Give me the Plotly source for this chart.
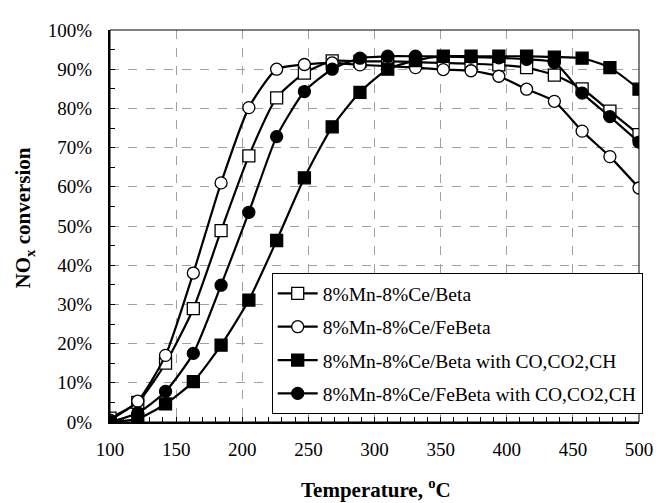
import plotly.graph_objects as go

temperature = [100, 121, 142, 163, 184, 205, 226, 247, 268, 289, 310, 331, 352, 373, 394, 415, 436, 457, 478, 500]

beta = [1.0, 5.0, 15.0, 28.9, 48.8, 67.9, 82.7, 89.0, 92.1, 92.0, 92.0, 91.8, 91.6, 91.4, 91.1, 90.4, 88.5, 85.0, 79.3, 73.3]
febeta = [0.5, 5.3, 17.0, 38.0, 61.0, 80.2, 90.0, 91.2, 91.6, 91.1, 90.8, 90.4, 89.9, 89.6, 88.2, 84.9, 81.8, 74.2, 67.7, 59.7]
beta_co = [0.0, 0.8, 4.6, 10.3, 19.6, 31.1, 46.3, 62.3, 75.3, 84.1, 90.0, 92.2, 93.3, 93.3, 93.3, 93.3, 93.1, 92.8, 90.4, 84.9]
febeta_co = [0.0, 2.3, 7.8, 17.5, 34.9, 53.5, 72.8, 84.3, 90.0, 92.8, 93.3, 93.3, 93.2, 93.1, 92.9, 92.5, 91.7, 83.9, 77.9, 71.4]

names = ["8%Mn-8%Ce/Beta", "8%Mn-8%Ce/FeBeta",
         "8%Mn-8%Ce/Beta with CO,CO2,CH", "8%Mn-8%Ce/FeBeta with CO,CO2,CH"]
x_ticks = [100, 150, 200, 250, 300, 350, 400, 450, 500]
y_ticks = [0, 10, 20, 30, 40, 50, 60, 70, 80, 90, 100]

series = [
    (names[0], beta, "square", "white"),
    (names[1], febeta, "circle", "white"),
    (names[2], beta_co, "square", "black"),
    (names[3], febeta_co, "circle", "black"),
]

FONT = "Liberation Serif"

fig = go.Figure()
for i, (name, vals, sym, fill) in enumerate(series):
    fig.add_trace(go.Scatter(
        x=temperature, y=vals, name=name, mode="lines+markers",
        legendgroup=f"g{i}",
        line=dict(color="black", width=2.2, shape="spline", smoothing=0.6),
        marker=dict(symbol=sym, size=12, color=fill, line=dict(color="black", width=1.3)),
    ))

fig.update_layout(
    width=657, height=495,
    margin=dict(l=102, r=17, t=14, b=81),
    paper_bgcolor="white", plot_bgcolor="white",
    font=dict(family=FONT, size=19, color="black"),
    showlegend=True,
    legend=dict(
        x=1.007, xanchor="right", y=0.02, yanchor="bottom",
        bgcolor="white", bordercolor="black", borderwidth=1,
        font=dict(family=FONT, size=19.5), tracegroupgap=5,
        itemwidth=40,
    ),
    xaxis=dict(
        range=[100, 500], tickvals=x_ticks, ticktext=[str(v) for v in x_ticks],
        showgrid=True, gridcolor="#a0a0a0", griddash="dash", gridwidth=1,
        showline=True, linecolor="black", linewidth=2,
        ticks="inside", ticklen=5, tickcolor="black", tickwidth=1,
        minor=dict(dtick=10, ticks="inside", ticklen=5, tickcolor="black", showgrid=False),
        zeroline=False, tickfont=dict(family=FONT, size=19), ticklabelstandoff=9,
    ),
    yaxis=dict(
        range=[0, 100], tickvals=y_ticks, ticktext=[f"{v}%" for v in y_ticks],
        showgrid=True, gridcolor="#a0a0a0", griddash="dash", gridwidth=1,
        showline=True, linecolor="black", linewidth=2,
        ticks="inside", ticklen=5, tickcolor="black", tickwidth=1,
        minor=dict(dtick=5, ticks="inside", ticklen=5, tickcolor="black", showgrid=False),
        zeroline=False, tickfont=dict(family=FONT, size=19), ticklabelstandoff=12,
    ),
    shapes=[dict(type="rect", xref="paper", yref="paper", x0=0, x1=1, y0=0, y1=1,
                 line=dict(color="black", width=1), layer="above")],
    annotations=[
        dict(text="<b>Temperature, <sup>o</sup>C</b>", xref="paper", yref="paper",
             x=0.502, y=-0.17, showarrow=False, font=dict(family=FONT, size=21),
             xanchor="center", yanchor="middle"),
        dict(text="<b>NO<sub>x</sub> conversion</b>", xref="paper", yref="paper",
             x=-0.162, y=0.52, showarrow=False, textangle=-90,
             font=dict(family=FONT, size=21), xanchor="center", yanchor="middle"),
    ],
)

fig.write_html("out.html")
